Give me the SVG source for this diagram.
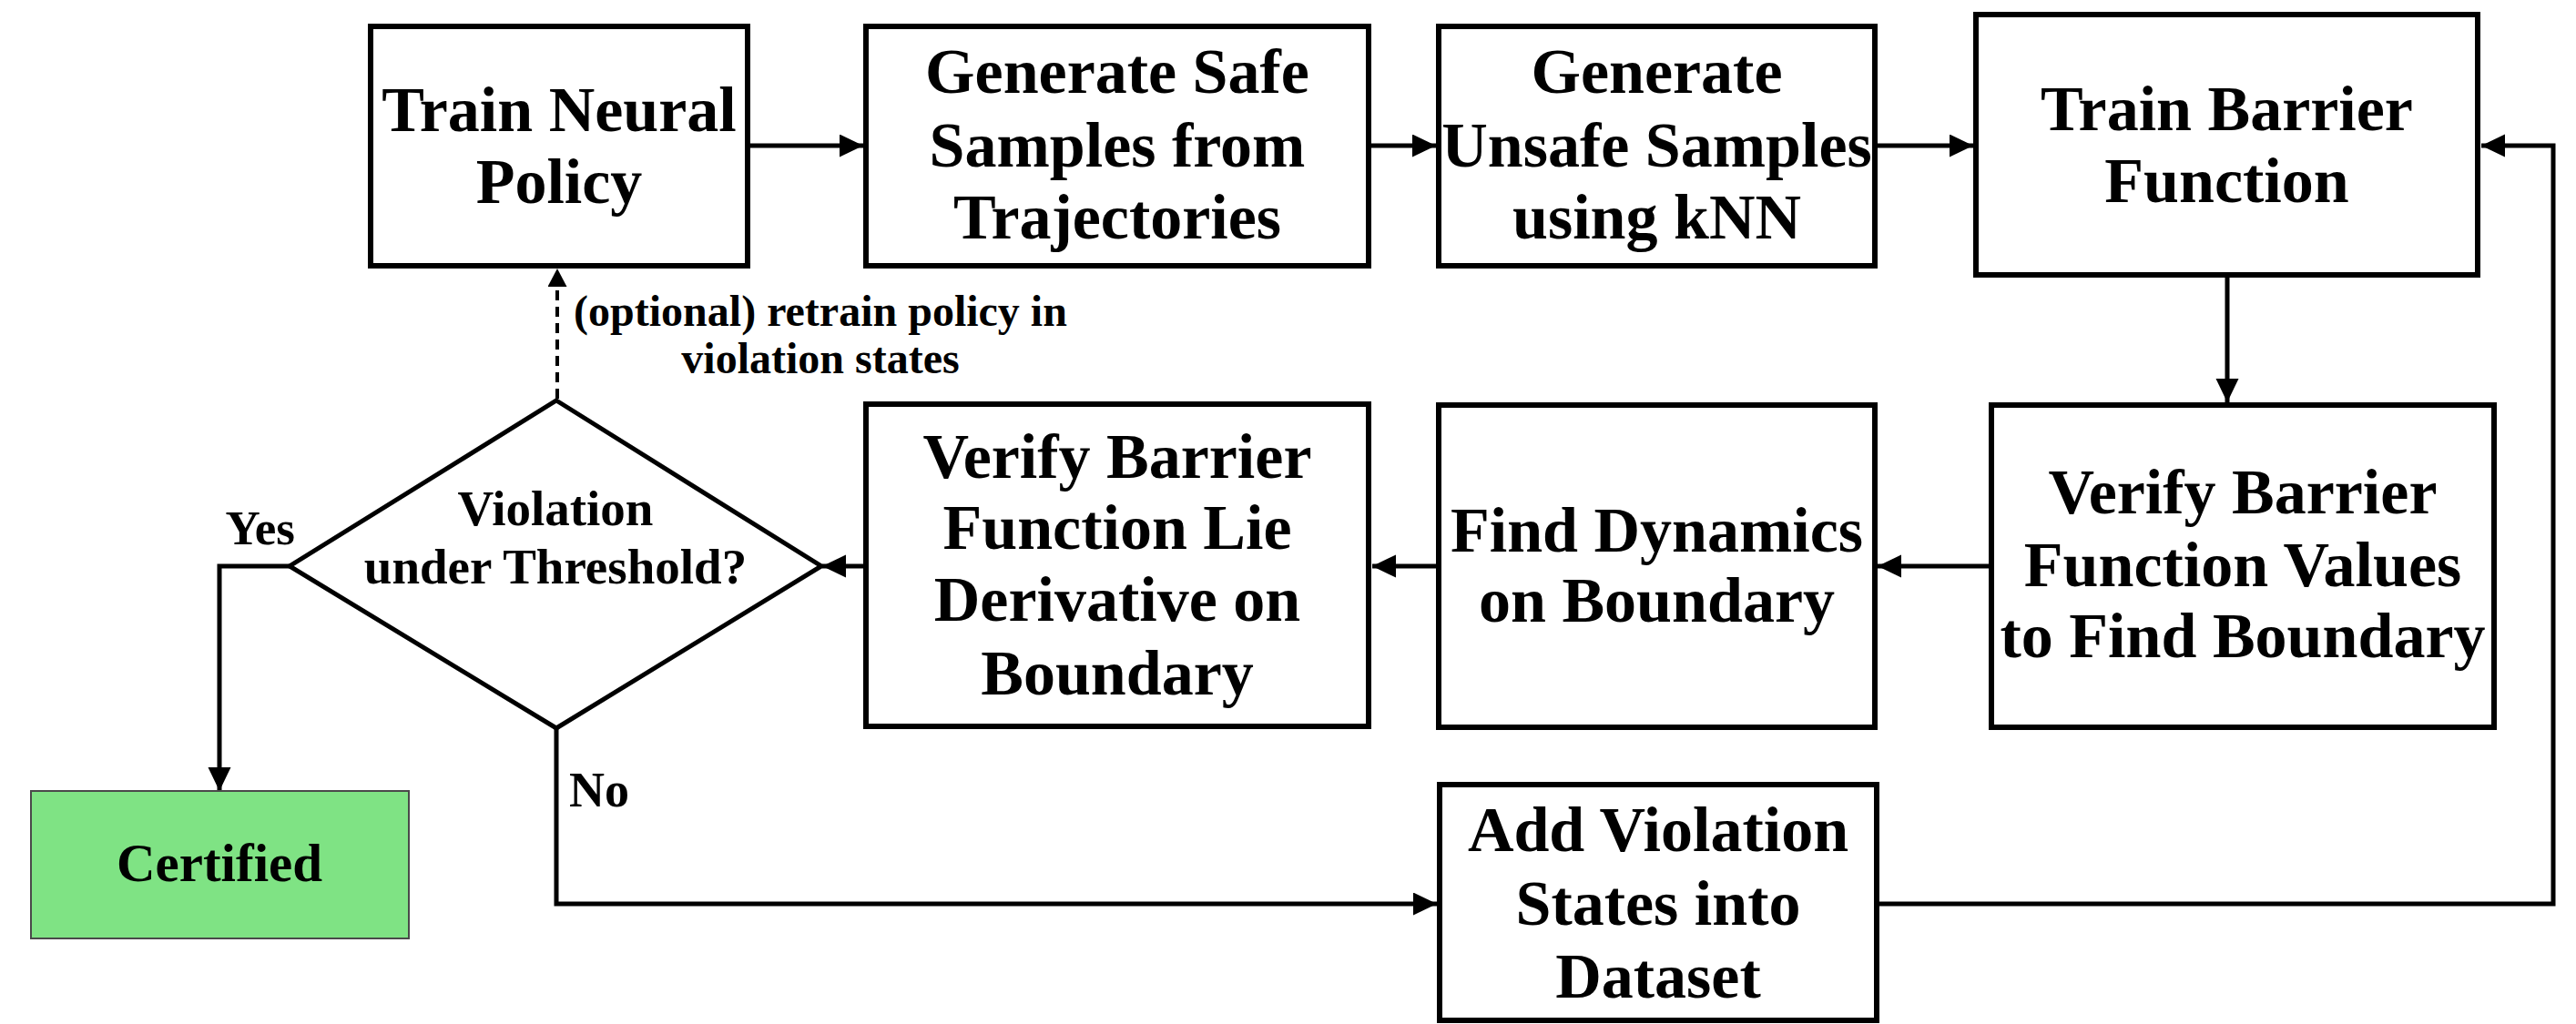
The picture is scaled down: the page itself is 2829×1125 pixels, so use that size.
<svg xmlns="http://www.w3.org/2000/svg" width="2829" height="1125" viewBox="0 0 2829 1125">
<defs>
<style>
.box{fill:#ffffff;stroke:#000;stroke-width:6}
.dia{fill:#ffffff;stroke:#000;stroke-width:5}
.cert{fill:#7fe384;stroke:#4a4a4a;stroke-width:2}
.t{font-family:"Liberation Serif","Times New Roman",serif;font-weight:bold;fill:#000;text-anchor:middle}
.n{font-size:70px}
.d{font-size:55px}
.lbl{font-size:48px}
.c{fill:none;stroke:#000;stroke-width:5}
.dash{fill:none;stroke:#000;stroke-width:4;stroke-dasharray:11 7}
</style>
<marker id="ah" markerUnits="userSpaceOnUse" markerWidth="27" markerHeight="26" refX="26" refY="12.5" orient="auto">
<path d="M0,0 L26,12.5 L0,25 z" fill="#000"/>
</marker>
<marker id="ahs" markerUnits="userSpaceOnUse" markerWidth="22" markerHeight="22" refX="20" refY="10.5" orient="auto">
<path d="M0,0 L20,10.5 L0,21 z" fill="#000"/>
</marker>
</defs>
<rect width="2829" height="1125" fill="#ffffff"/>

<g id="connectors">
<path class="c" d="M824,160 H948" marker-end="url(#ah)"/>
<path class="c" d="M1506,160 H1577" marker-end="url(#ah)"/>
<path class="c" d="M2062,160 H2167" marker-end="url(#ah)"/>
<path class="c" d="M2446,305 V442" marker-end="url(#ah)"/>
<path class="c" d="M2184,622 H2062" marker-end="url(#ah)"/>
<path class="c" d="M1577,622 H1507" marker-end="url(#ah)"/>
<path class="c" d="M948,622 H903" marker-end="url(#ah)"/>
<path class="c" d="M318,622 H241 V869" marker-end="url(#ah)"/>
<path class="c" d="M611,800 V993 H1578" marker-end="url(#ah)"/>
<path class="c" d="M2064,993 H2804 V160 H2725" marker-end="url(#ah)"/>
<path class="dash" d="M612,438 V295" marker-end="url(#ahs)"/>
<text class="t lbl" x="901" y="358">(optional) retrain policy in</text>
<text class="t lbl" x="901" y="410">violation states</text>
<text class="t" style="font-size:53px;text-anchor:end" x="324" y="598">Yes</text>
<text class="t" style="font-size:54px;text-anchor:start" x="625" y="886">No</text>
</g>

<g id="train-policy">
<rect class="box" x="407" y="29" width="414" height="263"/>
<text class="t n" x="614" y="144">Train Neural</text>
<text class="t n" x="614" y="223">Policy</text>
</g>

<g id="safe-samples">
<rect class="box" x="951" y="29" width="552" height="263"/>
<text class="t n" x="1227" y="102">Generate Safe</text>
<text class="t n" x="1227" y="183">Samples from</text>
<text class="t n" x="1227" y="262">Trajectories</text>
</g>

<g id="unsafe-samples">
<rect class="box" x="1580" y="29" width="479" height="263"/>
<text class="t n" x="1819.5" y="102">Generate</text>
<text class="t n" x="1819.5" y="183">Unsafe Samples</text>
<text class="t n" x="1819.5" y="262">using kNN</text>
</g>

<g id="train-barrier">
<rect class="box" x="2170" y="16" width="551" height="286"/>
<text class="t n" x="2445.5" y="143">Train Barrier</text>
<text class="t n" x="2445.5" y="222">Function</text>
</g>

<g id="verify-values">
<rect class="box" x="2187" y="445" width="552" height="354"/>
<text class="t n" x="2463" y="564">Verify Barrier</text>
<text class="t n" x="2463" y="644">Function Values</text>
<text class="t n" x="2463" y="722">to Find Boundary</text>
</g>

<g id="find-dynamics">
<rect class="box" x="1580" y="445" width="479" height="354"/>
<text class="t n" x="1819.5" y="606">Find Dynamics</text>
<text class="t n" x="1819.5" y="683">on Boundary</text>
</g>

<g id="verify-lie">
<rect class="box" x="951" y="444" width="552" height="354"/>
<text class="t n" x="1227" y="525">Verify Barrier</text>
<text class="t n" x="1227" y="603">Function Lie</text>
<text class="t n" x="1227" y="682">Derivative on</text>
<text class="t n" x="1227" y="763">Boundary</text>
</g>

<g id="decision">
<polygon class="dia" points="611,440 902,622 611,800 318,622"/>
<text class="t d" x="610" y="577">Violation</text>
<text class="t d" x="610" y="641">under Threshold?</text>
</g>

<g id="certified">
<rect class="cert" x="34" y="869" width="415" height="162"/>
<text class="t" style="font-size:59px" x="241" y="968">Certified</text>
</g>

<g id="add-violation">
<rect class="box" x="1581" y="862" width="480" height="259"/>
<text class="t n" x="1821" y="935">Add Violation</text>
<text class="t n" x="1821" y="1016">States into</text>
<text class="t n" x="1821" y="1096">Dataset</text>
</g>
</svg>
